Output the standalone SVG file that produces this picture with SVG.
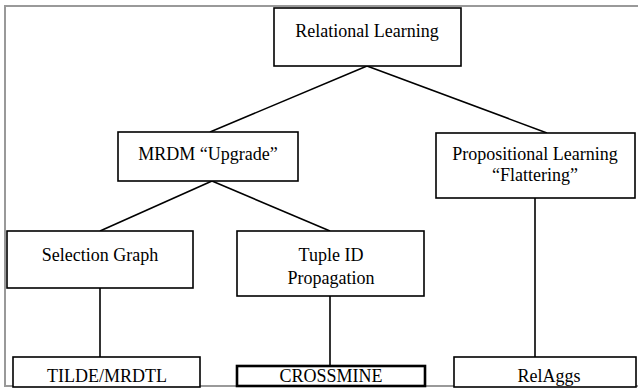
<svg xmlns="http://www.w3.org/2000/svg" width="638" height="388" viewBox="0 0 638 388">
<style>
.box{fill:#fff;stroke:#000;stroke-width:1.6}
.thick{stroke-width:2.6}
.lbl{font-family:"Liberation Serif","Times New Roman",serif;font-size:18px;fill:#000;text-anchor:middle}
.edge{stroke:#000;stroke-width:1.6;fill:none}
.frame{stroke:#999;stroke-width:2;fill:none}
</style>
<rect width="638" height="388" fill="#fff"/>
<path class="frame" d="M5,387 V6 H638 M5,386 H638"/>
<g id="connectors">
<line class="edge" x1="367" y1="66" x2="210" y2="132"/>
<line class="edge" x1="367" y1="66" x2="547" y2="133"/>
<line class="edge" x1="212" y1="181" x2="100" y2="231"/>
<line class="edge" x1="212" y1="181" x2="330" y2="231"/>
<line class="edge" x1="100" y1="288" x2="100" y2="357"/>
<line class="edge" x1="330" y1="296" x2="330" y2="366"/>
<line class="edge" x1="535" y1="198" x2="535" y2="357"/>
</g>
<g id="relational-learning"><rect class="box" x="274" y="8" width="187" height="58"/><text class="lbl" font-family="Liberation Serif, serif" x="367" y="37">Relational Learning</text></g>
<g id="mrdm"><rect class="box" x="118" y="132" width="180" height="49"/><text class="lbl" font-family="Liberation Serif, serif" x="208" y="160">MRDM “Upgrade”</text></g>
<g id="propositional"><rect class="box" x="436" y="133" width="199" height="65"/><text class="lbl" font-family="Liberation Serif, serif" x="535" y="160">Propositional Learning</text><text class="lbl" font-family="Liberation Serif, serif" x="535" y="181">“Flattering”</text></g>
<g id="selection-graph"><rect class="box" x="7" y="231" width="186" height="57"/><text class="lbl" font-family="Liberation Serif, serif" x="100" y="261">Selection Graph</text></g>
<g id="tuple-id"><rect class="box" x="237" y="231" width="187" height="65"/><text class="lbl" font-family="Liberation Serif, serif" x="331" y="261">Tuple ID</text><text class="lbl" font-family="Liberation Serif, serif" x="331" y="284">Propagation</text></g>
<g id="tilde"><rect class="box" x="13" y="357" width="187" height="30"/><text class="lbl" font-family="Liberation Serif, serif" x="107" y="382">TILDE/MRDTL</text></g>
<g id="crossmine"><rect class="box thick" x="237" y="366" width="188" height="20"/><text class="lbl" font-family="Liberation Serif, serif" x="331" y="382">CROSSMINE</text></g>
<g id="relaggs"><rect class="box" x="454" y="357" width="182" height="30"/><text class="lbl" font-family="Liberation Serif, serif" x="549" y="382">RelAggs</text></g>
</svg>
